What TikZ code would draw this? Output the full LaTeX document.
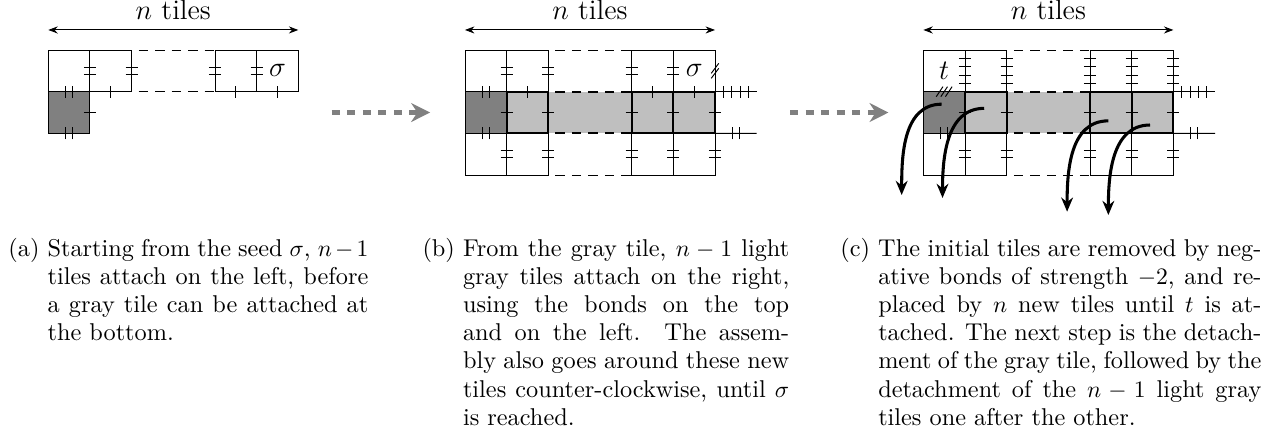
\documentclass[tikz,border=0pt]{standalone}
\usetikzlibrary{arrows.meta, positioning}

\newcommand{\vticks}[3][0.16]{%
  \foreach \k in {1,...,#3}
    \draw[shift={(#2)}] (-0.145,{(\k-(#3+1)/2)*#1}) -- ++(0.29,0);
}
\newcommand{\hticks}[3][0.16]{%
  \foreach \k in {1,...,#3}
    \draw[shift={(#2)}] ({(\k-(#3+1)/2)*#1},-0.145) -- ++(0,0.29);
}
\newcommand{\vslash}[2]{%
  \foreach \k in {1,...,#2}
    \draw[shift={(#1)}] (-0.09,{(\k-(#2+1)/2)*0.12-0.12}) -- ++(0.18,0.24);
}
\newcommand{\hslash}[2]{%
  \foreach \k in {1,...,#2}
    \draw[shift={(#1)}] ({(\k-(#2+1)/2)*0.11-0.08},-0.12) -- ++(0.16,0.24);
}
\newcommand{\hanglabel}[1]{\setbox0\hbox{#1\ }\hangindent\wd0\hangafter1\box0}

\begin{document}
\begin{tikzpicture}[
            x=17.67pt, y=17.67pt,
            auto
        ]

        \tikzstyle{tile}=[draw, rectangle, minimum size=17.67pt, inner sep=0pt, outer sep=0pt]
        \tikzstyle{graytile}=[tile, fill=gray]
        \tikzstyle{lighttile}=[tile, fill=gray!50, line width=0.9pt]
        \tikzstyle{gap}=[dash pattern=on 4pt off 3pt, dash phase=4pt]
        \tikzstyle{span}=[{Stealth[length=4pt,width=3pt]}-{Stealth[length=4pt,width=3pt]}]
        \tikzstyle{move}=[gray, line width=2pt, dash pattern=on 3.4pt off 3.2pt, -{Stealth[length=8pt,width=8pt]}]
        \tikzstyle{removal}=[line width=1.3pt, -{Stealth[length=6pt,width=5pt]}]
        \tikzstyle{caption}=[anchor=base west, inner sep=0pt, align=justify,
            font=\fontsize{10.3pt}{11.9pt}\selectfont]

        \useasboundingbox (-1.159,1.2) rectangle (29.343,-9.311);

        % (a)
        \node[tile] (a1) at (0.5,-0.5) {};
        \node[tile] (a2) at (1.5,-0.5) {};
        \node[tile] (a5) at (4.5,-0.5) {};
        \node[tile, font=\large] (a6) at (5.5,-0.5) {$\sigma$};
        \node[graytile] (ag) at (0.5,-1.5) {};
        \draw[gap] (a2.north east) -- (a5.north west);
        \draw[gap] (a2.south east) -- (a5.south west);

        \vticks{a1.east}{2} \vticks{a2.east}{2} \vticks{a5.west}{2} \vticks{a5.east}{2}
        \vticks{ag.east}{1}
        \hticks{ag.north}{2} \hticks{ag.south}{2}
        \hticks{a2.south}{1} \hticks{a5.south}{1} \hticks{a6.south}{1}

        \draw[span] ([yshift=8.5pt]a1.north west) -- node[above=4.2pt, inner sep=0pt, font=\large] (na) {$n$ tiles} ([yshift=8.5pt]a6.north east);

        % (b)
        \node[tile] (bt1) at (10.5,-0.5) {};
        \node[tile] (bt2) at (11.5,-0.5) {};
        \node[tile] (bt5) at (14.5,-0.5) {};
        \node[tile, font=\large] (bt6) at (15.5,-0.5) {$\sigma$};
        \node[tile] (bb1) at (10.5,-2.5) {};
        \node[tile] (bb2) at (11.5,-2.5) {};
        \node[tile] (bb5) at (14.5,-2.5) {};
        \node[tile] (bb6) at (15.5,-2.5) {};
        \draw[gap] (bt2.north east) -- (bt5.north west);
        \draw[gap] (bb2.south east) -- (bb5.south west);
        \fill[gray!50] (bt2.south east) rectangle (bb5.north west);
        \node[graytile] (bg) at (10.5,-1.5) {};
        \node[lighttile] (bm2) at (11.5,-1.5) {};
        \node[lighttile] (bm5) at (14.5,-1.5) {};
        \node[lighttile] (bm6) at (15.5,-1.5) {};
        \draw[gap, line width=0.9pt] (bm2.north east) -- (bm5.north west);
        \draw[gap, line width=0.9pt] (bm2.south east) -- (bm5.south west);
        \coordinate (bn) at (17,-1);
        \coordinate (bs) at (17,-2);
        \draw (bm6.north east) -- (bn);
        \draw (bm6.south east) -- (bs);

        \vticks{bt1.east}{2} \vticks{bt2.east}{2} \vticks{bt5.west}{2} \vticks{bt5.east}{2}
        \vslash{bt6.east}{2}
        \hticks{bg.north}{2} \hticks{bg.south}{2} \vticks{bg.east}{1}
        \hticks{bm2.north}{1} \hticks{bm5.north}{1} \hticks{bm6.north}{1}
        \vticks{bm2.east}{1} \vticks{bm5.west}{1} \vticks{bm5.east}{1} \vticks{bm6.east}{1}
        \hticks[0.2]{16.5,-1}{4} \hticks{16.5,-2}{2}
        \vticks{bb1.east}{2} \vticks{bb2.east}{2} \vticks{bb5.west}{2} \vticks{bb5.east}{2} \vticks{bb6.east}{2}

        \draw[span] ([yshift=8.5pt]bt1.north west) -- node[above=4.2pt, inner sep=0pt, font=\large] (nb) {$n$ tiles} ([yshift=8.5pt]bt6.north east);

        % (c)
        \node[tile, font=\large] (ct1) at (21.5,-0.5) {$t$};
        \node[tile] (ct2) at (22.5,-0.5) {};
        \node[tile] (ct5) at (25.5,-0.5) {};
        \node[tile] (ct6) at (26.5,-0.5) {};
        \node[tile] (cb1) at (21.5,-2.5) {};
        \node[tile] (cb2) at (22.5,-2.5) {};
        \node[tile] (cb5) at (25.5,-2.5) {};
        \node[tile] (cb6) at (26.5,-2.5) {};
        \draw[gap] (ct2.north east) -- (ct5.north west);
        \draw[gap] (cb2.south east) -- (cb5.south west);
        \fill[gray!50] (ct2.south east) rectangle (cb5.north west);
        \node[graytile] (cg) at (21.5,-1.5) {};
        \node[lighttile] (cm2) at (22.5,-1.5) {};
        \node[lighttile] (cm5) at (25.5,-1.5) {};
        \node[lighttile] (cm6) at (26.5,-1.5) {};
        \draw[gap, line width=0.9pt] (cm2.north east) -- (cm5.north west);
        \draw[gap, line width=0.9pt] (cm2.south east) -- (cm5.south west);
        \coordinate (cn) at (28,-1);
        \coordinate (cs) at (28,-2);
        \draw (cm6.north east) -- (cn);
        \draw (cm6.south east) -- (cs);

        \vticks[0.2]{ct1.east}{4} \vticks[0.2]{ct2.east}{4} \vticks[0.2]{ct5.west}{4}
        \vticks[0.2]{ct5.east}{4} \vticks[0.2]{ct6.east}{4}
        \hslash{cg.north}{3}
        \hticks{cg.south}{2} \vticks{cg.east}{1}
        \vticks{cm2.east}{1} \vticks{cm5.west}{1} \vticks{cm5.east}{1} \vticks{cm6.east}{1}
        \hticks[0.2]{27.5,-1}{4} \hticks{27.5,-2}{2}
        \vticks{cb1.east}{2} \vticks{cb2.east}{2} \vticks{cb5.west}{2} \vticks{cb5.east}{2} \vticks{cb6.east}{2}

        \draw[span] ([yshift=8.5pt]ct1.north west) -- node[above=4.2pt, inner sep=0pt, font=\large] (nc) {$n$ tiles} ([yshift=8.5pt]ct6.north east);

        \coordinate (d1) at (20.48,-3.48);
        \coordinate (d2) at (21.46,-3.55);
        \coordinate (d3) at (24.45,-3.88);
        \coordinate (d4) at (25.44,-3.96);
        \draw[removal] ([shift={(-0.06,0.2)}]cg.center) to[out=180,in=90] (d1);
        \draw[removal] ([shift={(-0.04,0.1)}]cm2.center) to[out=180,in=90] (d2);
        \draw[removal] ([shift={(-0.06,-0.2)}]cm5.center) to[out=180,in=90] (d3);
        \draw[removal] ([shift={(-0.06,-0.3)}]cm6.center) to[out=180,in=90] (d4);

        % steps
        \coordinate (ab) at (6.8,-1.5);
        \coordinate (bc) at (17.8,-1.5);
        \draw[move] (ab) -- ([xshift=-14.8pt]bg.west);
        \draw[move] (bc) -- ([xshift=-14.8pt]cg.west);

        % captions
        \node[caption, text width=152.6pt] (capa) at (-0.967,-4.96) {\hanglabel{(a)}Starting from the seed $\sigma$, $n-1$\linebreak tiles attach on the left, before\linebreak a gray tile can be attached at\linebreak the bottom.\par};
        \node[caption, text width=155.5pt] (capb) at (8.97,-4.96) {\hanglabel{(b)}From the gray tile, $n-1$ light\linebreak gray tiles attach on the right,\linebreak using the bonds on the top\linebreak and on the left. The assem-\linebreak bly also goes around these new\linebreak tiles counter-clockwise, until $\sigma$\linebreak is reached.\par};
        \node[caption, text width=178.5pt] (capc) at (19.0,-4.96) {\hanglabel{(c)}The initial tiles are removed by neg-\linebreak ative bonds of strength $-2$, and re-\linebreak placed by $n$ new tiles until $t$ is at-\linebreak tached. The next step is the detach-\linebreak ment of the gray tile, followed by the\linebreak detachment of the $n-1$ light gray\linebreak tiles one after the other.\par};

    \end{tikzpicture}
\end{document}
